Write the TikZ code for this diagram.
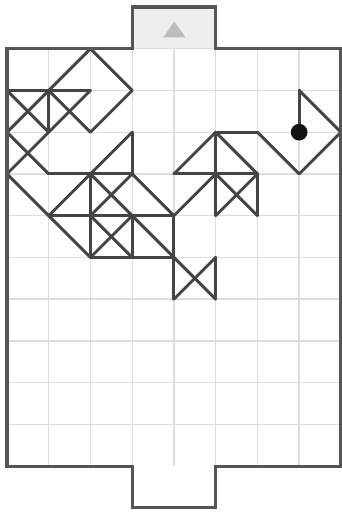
\documentclass[tikz,border=0pt]{standalone}
\definecolor{gridgray}{HTML}{DDDDDD}
\definecolor{wallgray}{HTML}{555555}
\definecolor{seggray}{HTML}{444444}
\definecolor{tabfill}{HTML}{EEEEEE}
\definecolor{trigray}{HTML}{BDBDBD}
\definecolor{dotblack}{HTML}{111111}
\begin{document}
\begin{tikzpicture}[x=1cm,y=-1cm,
  gridline/.style={draw=gridgray, line width=0.9pt},
  wall/.style={draw=wallgray, line width=2.1pt, line join=miter},
  seg/.style={draw=seggray, line width=2pt, line cap=round, line join=round}]
\useasboundingbox (-0.1675,-1.167) rectangle (8.014,11.124);
% top tab fill and marker
\fill[tabfill] (3,-1) rectangle (5,0);
\fill[trigray] (3.744,-0.27) -- (4.28,-0.27) -- (4.007,-0.652) -- cycle;
% grid
\foreach \i in {1,...,7} \draw[gridline] (\i,0) -- (\i,10);
\foreach \j in {1,...,9} \draw[gridline] (0,\j) -- (8,\j);
\draw[gridline] (3,0) -- (5,0);
% path segments
\foreach \a/\b in {
  {(2,0)}/{(3,1)}, {(3,1)}/{(2,2)}, {(2,0)}/{(0,2)}, {(1,1)}/{(2,2)},
  {(0,1)}/{(2,1)}, {(1,1)}/{(1,2)}, {(0,1)}/{(1,2)}, {(2,1)}/{(0,3)},
  {(0,2)}/{(1,3)}, {(1,3)}/{(3,3)}, {(3,2)}/{(3,3)}, {(3,2)}/{(1,4)},
  {(0,3)}/{(2,5)}, {(1,4)}/{(4,4)}, {(2,3)}/{(2,5)}, {(2,3)}/{(3,4)},
  {(3,3)}/{(2,4)}, {(2,4)}/{(3,5)}, {(3,4)}/{(2,5)}, {(2,5)}/{(4,5)},
  {(3,4)}/{(3,5)}, {(3,3)}/{(4,4)}, {(4,4)}/{(5,3)}, {(4,3)}/{(5,2)},
  {(4,3)}/{(6,3)}, {(5,2)}/{(5,4)}, {(5,2)}/{(6,3)}, {(5,2)}/{(6,2)},
  {(6,2)}/{(7,3)}, {(7,3)}/{(8,2)}, {(8,2)}/{(7,1)}, {(7,1)}/{(7,2)},
  {(6,3)}/{(6,4)}, {(5,3)}/{(6,4)}, {(6,3)}/{(5,4)}, {(4,4)}/{(4,6)},
  {(3,4)}/{(5,6)}, {(5,5)}/{(4,6)}, {(5,5)}/{(5,6)}}
  \draw[seg] \a -- \b;
% walls
\draw[wall] (3,0) -- (0,0) -- (0,10) -- (3,10) -- (3,11) -- (5,11) -- (5,10)
  -- (8,10) -- (8,0) -- (5,0) -- (5,-1) -- (3,-1) -- cycle;
% dot
\fill[dotblack] (7,2) circle (0.2);
\end{tikzpicture}
\end{document}
